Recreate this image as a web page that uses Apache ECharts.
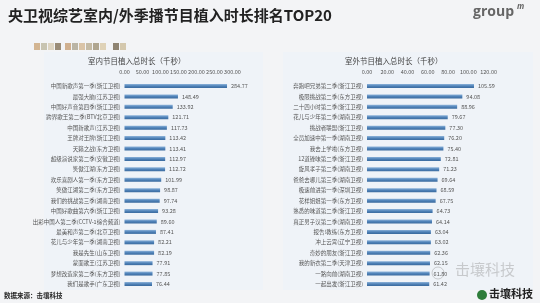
<!DOCTYPE html>
<html><head><meta charset="utf-8">
<script src="https://cdn.jsdelivr.net/npm/echarts@6/dist/echarts.min.js"></script>
<style>html,body{margin:0;padding:0;background:#f2f3f5;}#c{width:540px;height:303px;}</style>
</head><body><div id="c"></div>
<script>
const indoorNames = ["中国新歌声第一季(浙江卫视)","最强大脑(江苏卫视)","中国好声音第四季(浙江卫视)","跨界歌王第二季(BTV北京卫视)","中国新歌声(江苏卫视)","王牌对王牌(浙江卫视)","天籁之战(东方卫视)","超级演说家第二季(安徽卫视)","笑傲江湖(东方卫视)","欢乐喜剧人第一季(东方卫视)","笑傲江湖第二季(东方卫视)","我们的挑战第三季(湖南卫视)","中国好歌曲第六季(浙江卫视)","出彩中国人第二季(CCTV-1综合频道)","最美和声第二季(北京卫视)","花儿与少年第一季(湖南卫视)","我是先生(山东卫视)","蒙面歌王(江苏卫视)","梦想改造家第二季(东方卫视)","我们是歌手(广东卫视)"];
const indoorValues = [284.77,148.49,133.92,121.71,117.73,113.42,113.41,112.97,112.72,101.99,98.87,97.74,93.28,89.60,87.41,82.21,82.19,77.91,77.85,76.44];
const outdoorNames = ["奔跑吧兄弟第二季(浙江卫视)","极限挑战第二季(东方卫视)","二十四小时第二季(浙江卫视)","花儿与少年第二季(湖南卫视)","挑战者联盟(浙江卫视)","全员加速中第一季(湖南卫视)","我去上学啦(东方卫视)","12道锋味第二季(浙江卫视)","旋风孝子第二季(湖南卫视)","爸爸去哪儿第三季(湖南卫视)","极速前进第一季(深圳卫视)","花样姐姐第一季(东方卫视)","熟悉的味道第二季(浙江卫视)","真正男子汉第二季(湖南卫视)","报告!教练(东方卫视)","冲上云霄(辽宁卫视)","奇妙的朋友(浙江卫视)","我的新衣第二季(天津卫视)","一路向前(湖南卫视)","一起出发(浙江卫视)"];
const outdoorValues = [105.59,94.08,88.96,79.67,77.30,76.20,75.40,72.81,71.23,69.64,68.59,67.75,64.73,64.14,63.04,63.02,62.36,62.15,61.80,61.42];
const indoorTicks = {min:0,max:300,interval:50};
const outdoorTicks = {min:0,max:120,interval:20};

const chart = echarts.init(document.getElementById('c'), null, {renderer:'canvas'});
const FONT = '"Noto Sans CJK SC","Noto Sans",sans-serif';
const barColor = new echarts.graphic.LinearGradient(0,0,0,1,[{offset:0,color:'#8db3da'},{offset:0.5,color:'#4f82b8'},{offset:1,color:'#3a6a9e'}]);
const fmt2 = v => Number(v).toFixed(2);
const catAxis = (gi, names) => ({type:'category', gridIndex:gi, data:names, inverse:true,
  axisLine:{show:false}, axisTick:{show:false},
  axisLabel:{fontSize:5.5, color:'#555', margin:4, fontFamily:FONT}});
const valAxis = (gi, t) => ({type:'value', gridIndex:gi, position:'top', min:t.min, max:t.max, interval:t.interval,
  axisLine:{show:false}, axisTick:{show:false}, splitLine:{show:false},
  axisLabel:{fontSize:5.5, color:'#555', margin:6, formatter:fmt2, fontFamily:FONT}});
const barSeries = (gi, vals) => ({type:'bar', xAxisIndex:gi, yAxisIndex:gi, data:vals, barWidth:4,
  itemStyle:{color:barColor}, silent:true,
  label:{show:true, position:'right', distance:4, fontSize:5.5, color:'#555', formatter:p=>fmt2(p.value), fontFamily:FONT}});

const swatches = ['#c8a070','#b9b49a','#d7cbb0','#7c6a4c','#c49a6c','#a8a08a','#d2b48c','#b5a88a','#9a8c6e','#d8c7a2','#6e5f45','#c9b994'];
const graphics = [
  {type:'rect', shape:{x:44,y:52,width:219,height:238}, style:{fill:'rgba(235,242,250,0.55)'}, z:-1},
  {type:'rect', shape:{x:283,y:52,width:250,height:238}, style:{fill:'rgba(235,242,250,0.55)'}, z:-1},
  {type:'text', left:8, top:8, style:{text:'央卫视综艺室内/外季播节目植入时长排名TOP20', font:'bold 15px '+FONT, fill:'#222'}},
  {type:'text', left:473, top:5, style:{text:'group', font:'bold 14px "Open Sans",sans-serif', fill:'#666'}},
  {type:'text', left:517, top:3, style:{text:'m', font:'italic bold 8px "Open Sans",sans-serif', fill:'#666'}},
  {type:'text', left:88, top:57, style:{text:'室内节目植入总时长（千秒）', font:'7.5px '+FONT, fill:'#444'}},
  {type:'text', left:345, top:57, style:{text:'室外节目植入总时长（千秒）', font:'7.5px '+FONT, fill:'#444'}},
  {type:'text', left:4, top:292, style:{text:'数据来源：击壤科技', font:'bold 6.5px '+FONT, fill:'#222'}},
  {type:'text', left:455, top:262, style:{text:'击壤科技', font:'15px '+FONT, fill:'rgba(150,150,150,0.45)'}},
  {type:'circle', shape:{cx:438,cy:273,r:6}, style:{fill:'none', stroke:'rgba(150,150,150,0.45)', lineWidth:1}},
  {type:'circle', shape:{cx:482,cy:295,r:5}, style:{fill:'#2f7d3a'}},
  {type:'text', left:489, top:288, style:{text:'击壤科技', font:'bold 11px '+FONT, fill:'#222'}}
];
swatches.forEach((c,i)=>{ const gap = i>=4 ? 3 : 0; const gap2 = i>=10 ? 6 : 0;
  graphics.push({type:'rect', shape:{x:34+i*7+gap+gap2, y:43, width:6, height:7}, style:{fill:c, opacity:0.75}}); });

chart.setOption({
  animation:false,
  backgroundColor:'#f3f4f6',
  textStyle:{fontFamily:FONT},
  grid:[
    {left:124.5, right:307.5, top:80.8, bottom:13.8},
    {left:367, right:51.4, top:80.8, bottom:13.8}
  ],
  xAxis:[valAxis(0, indoorTicks), valAxis(1, outdoorTicks)],
  yAxis:[catAxis(0, indoorNames), catAxis(1, outdoorNames)],
  series:[barSeries(0, indoorValues), barSeries(1, outdoorValues)],
  graphic:graphics
});
</script></body></html>
